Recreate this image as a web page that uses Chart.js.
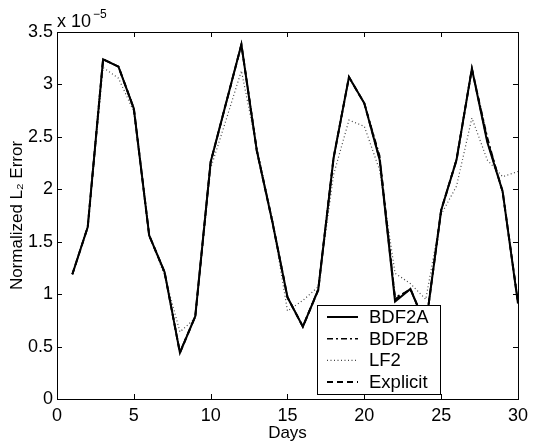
<!DOCTYPE html>
<html>
<head>
<meta charset="utf-8">
<script src="https://cdn.jsdelivr.net/npm/chart.js@4.4.1/dist/chart.umd.min.js"></script>
<style>
  body { margin: 0; background: #fff; }
  canvas { display: block; }
</style>
</head>
<body>
<canvas id="errChart" width="534" height="444"></canvas>
<script>
// values are in units of 1e-5 (axis shows "x 10^-5")
var days = [1, 2, 3, 4, 5, 6, 7, 8, 9, 10, 11, 12, 13, 14, 15, 16, 17, 18, 19, 20, 21, 22, 23, 24, 25, 26, 27, 28, 29, 30];
var bdf2a = [1.19, 1.64, 3.24, 3.17, 2.77, 1.56, 1.21, 0.44, 0.79, 2.26, 2.82, 3.38, 2.37, 1.70, 0.97, 0.69, 1.04, 2.30, 3.07, 2.82, 2.28, 0.93, 1.05, 0.70, 1.80, 2.28, 3.15, 2.45, 1.98, 0.91];
var bdf2b = [1.19, 1.64, 3.24, 3.17, 2.77, 1.56, 1.21, 0.45, 0.79, 2.26, 2.82, 3.38, 2.38, 1.71, 0.97, 0.69, 1.05, 2.30, 3.07, 2.82, 2.32, 0.97, 1.04, 0.71, 1.80, 2.29, 3.15, 2.50, 1.97, 0.93];
var lf2 = [1.19, 1.64, 3.16, 3.06, 2.74, 1.56, 1.18, 0.64, 0.77, 2.20, 2.66, 3.13, 2.40, 1.72, 0.84, 0.94, 1.07, 2.14, 2.66, 2.60, 2.18, 1.20, 1.10, 0.95, 1.76, 2.03, 2.68, 2.28, 2.12, 2.17];
var explicit = [1.19, 1.64, 3.24, 3.17, 2.77, 1.56, 1.21, 0.44, 0.79, 2.26, 2.82, 3.38, 2.37, 1.70, 0.97, 0.69, 1.04, 2.30, 3.07, 2.82, 2.29, 0.95, 1.05, 0.70, 1.80, 2.28, 3.15, 2.47, 1.98, 0.92];
var seriesNames = ['BDF2A', 'BDF2B', 'LF2', 'Explicit'];

var font = 'Liberation Sans, Arial, Helvetica, sans-serif';

function pts(ys) {
    return days.map(function (d, i) { return { x: d, y: ys[i] }; });
}

// matlab style box with inward ticks on all four sides
var boxPlugin = {
    id: 'box',
    afterDatasetsDraw: function (chart) {
        var c = chart.ctx, a = chart.chartArea;
        var xs = chart.scales.x, ys = chart.scales.y;
        c.save();
        c.strokeStyle = '#000';
        c.lineWidth = 1;
        c.strokeRect(a.left + 0.5, a.top + 0.5, a.right - a.left, a.bottom - a.top);
        c.beginPath();
        xs.ticks.forEach(function (t) {
            var px = Math.round(xs.getPixelForValue(t.value)) + 0.5;
            c.moveTo(px, a.bottom); c.lineTo(px, a.bottom - 5);
            c.moveTo(px, a.top); c.lineTo(px, a.top + 5);
        });
        ys.ticks.forEach(function (t) {
            var py = Math.round(ys.getPixelForValue(t.value)) + 0.5;
            c.moveTo(a.left, py); c.lineTo(a.left + 5, py);
            c.moveTo(a.right, py); c.lineTo(a.right - 5, py);
        });
        c.stroke();

        // exponent label
        c.fillStyle = '#000';
        c.textBaseline = 'alphabetic';
        c.font = '18px ' + font;
        c.fillText('x 10', a.left, a.top - 5);
        c.font = '12px ' + font;
        c.fillText('\u22125', a.left + 36, a.top - 14);

        // legend
        var lx = 317, ly = 305, lw = 123, lh = 89;
        c.fillStyle = '#fff';
        c.fillRect(lx, ly, lw, lh);
        c.strokeRect(lx + 0.5, ly + 0.5, lw, lh);
        chart.data.datasets.forEach(function (ds, i) {
            var yy = ly + 12 + i * 21.7;
            c.strokeStyle = ds.borderColor;
            c.lineWidth = ds.borderWidth;
            c.setLineDash(ds.borderDash || []);
            c.beginPath();
            c.moveTo(lx + 10, yy); c.lineTo(lx + 41, yy);
            c.stroke();
            c.setLineDash([]);
            c.fillStyle = '#000';
            c.font = '18.5px ' + font;
            c.textBaseline = 'middle';
            c.fillText(seriesNames[i], lx + 52, yy + 1);
        });
        c.restore();
    }
};

var ctx = document.getElementById('errChart').getContext('2d');
var chart = new Chart(ctx, {
    type: 'line',
    data: {
        datasets: [
            { label: seriesNames[0], data: pts(bdf2a), borderColor: '#000', borderWidth: 2 },
            { label: seriesNames[1], data: pts(bdf2b), borderColor: '#000', borderWidth: 1.5, borderDash: [6, 3, 2, 3] },
            { label: seriesNames[2], data: pts(lf2), borderColor: '#444', borderWidth: 1.2, borderDash: [1, 2.5] },
            { label: seriesNames[3], data: pts(explicit), borderColor: '#000', borderWidth: 2, borderDash: [6, 4] }
        ]
    },
    options: {
        responsive: false,
        animation: false,
        events: [],
        elements: { point: { radius: 0 }, line: { tension: 0 } },
        layout: { padding: { left: 0, right: 12, top: 32, bottom: 0 } },
        plugins: { legend: { display: false }, tooltip: { enabled: false } },
        scales: {
            x: {
                type: 'linear', min: 0, max: 30,
                grid: { display: false, drawTicks: false },
                border: { display: false },
                ticks: { stepSize: 5, color: '#000', padding: 6, font: { family: font, size: 18 } },
                title: { display: true, text: 'Days', color: '#000', padding: { top: 0, bottom: 0 }, font: { family: font, size: 17 } },
                afterFit: function (s) { s.height = 45; }
            },
            y: {
                min: 0, max: 3.5,
                grid: { display: false, drawTicks: false },
                border: { display: false },
                ticks: {
                    stepSize: 0.5, color: '#000', padding: 4, font: { family: font, size: 18 },
                    callback: function (v) { return String(v); }
                },
                title: { display: true, text: 'Normalized L\u2082 Error', color: '#000', padding: { top: 7, bottom: 0 }, font: { family: font, size: 17 } },
                afterFit: function (s) { s.width = 57; }
            }
        }
    },
    plugins: [boxPlugin]
});
</script>
</body>
</html>
